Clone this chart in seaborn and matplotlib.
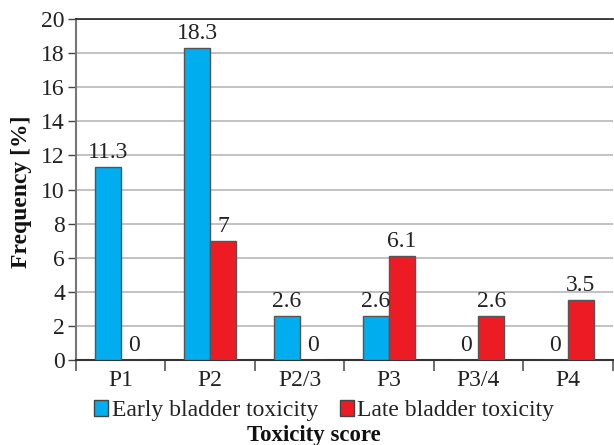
import matplotlib
matplotlib.use("Agg")
import matplotlib.pyplot as plt
import seaborn as sns
import pandas as pd
from matplotlib.patches import Patch

categories = ["P1", "P2", "P2/3", "P3", "P3/4", "P4"]
early = [11.3, 18.3, 2.6, 2.6, 0, 0]
late = [0, 7, 0, 6.1, 2.6, 3.5]
series_names = ["Early bladder toxicity", "Late bladder toxicity"]
colors = ["#00AEEF", "#ED1C24"]
y_ticks = [0, 2, 4, 6, 8, 10, 12, 14, 16, 18, 20]

df = pd.DataFrame({
    "score": categories * 2,
    "value": early + late,
    "series": [series_names[0]] * len(categories) + [series_names[1]] * len(categories),
})

sns.set_style("white")
plt.rcParams["font.family"] = ["Liberation Serif", "DejaVu Serif"]

fig = plt.figure(figsize=(6.14, 4.45), dpi=100)
ax = fig.add_axes([0.1238, 0.191, 0.874, 0.766])

sns.barplot(data=df, x="score", y="value", hue="series", order=categories,
            hue_order=series_names, palette=colors, width=0.58,
            edgecolor="#555555", linewidth=1.0, saturation=1, ax=ax,
            legend=False, zorder=3)

for cont in ax.containers:
    ax.bar_label(cont, labels=[f"{v:g}" for v in cont.datavalues],
                 padding=3, fontsize=17, color="#222222")

ax.set_ylim(0, 20)
ax.set_xlim(-0.5, 5.5)
ax.set_yticks(y_ticks)
ax.yaxis.grid(True, color="#b8b8b8", linewidth=1.2, zorder=0)
ax.set_axisbelow(True)

ax.tick_params(axis="y", which="major", left=True, length=6, width=1,
               color="#444444", labelsize=17, pad=2, labelcolor="#222222")
ax.set_xticks(range(len(categories)))
ax.set_xticklabels(categories)
ax.tick_params(axis="x", which="major", length=0, labelsize=17, pad=7,
               labelcolor="#222222")
ax.set_xticks([i + 0.5 for i in range(-1, len(categories))], minor=True)
ax.tick_params(axis="x", which="minor", bottom=True, length=8, width=1.2,
               color="#555555")

ax.spines["right"].set_visible(False)
ax.spines["top"].set_color("#222222")
ax.spines["top"].set_linewidth(1.2)
ax.spines["left"].set_color("#777777")
ax.spines["left"].set_linewidth(1.5)
ax.spines["bottom"].set_color("#333333")
ax.spines["bottom"].set_linewidth(1.5)

ax.set_xlabel("")
ax.set_ylabel("")

handles = [Patch(facecolor=c, edgecolor="#444444", linewidth=1.0) for c in colors]
fig.legend(handles, series_names, loc="center", bbox_to_anchor=(0.528, 0.078),
           ncol=2, frameon=False, fontsize=17, handlelength=0.6,
           handleheight=0.7, handletextpad=0.15, columnspacing=0.9,
           labelcolor="#222222")

fig.text(0.511, 0.022, "Toxicity score", ha="center", va="center",
         fontsize=16.5, fontweight="bold", color="#111111")
fig.text(0.035, 0.568, "Frequency [%]", ha="center", va="center",
         rotation=90, fontsize=17, fontweight="bold", color="#111111")

fig.savefig("out.png", dpi=100)
